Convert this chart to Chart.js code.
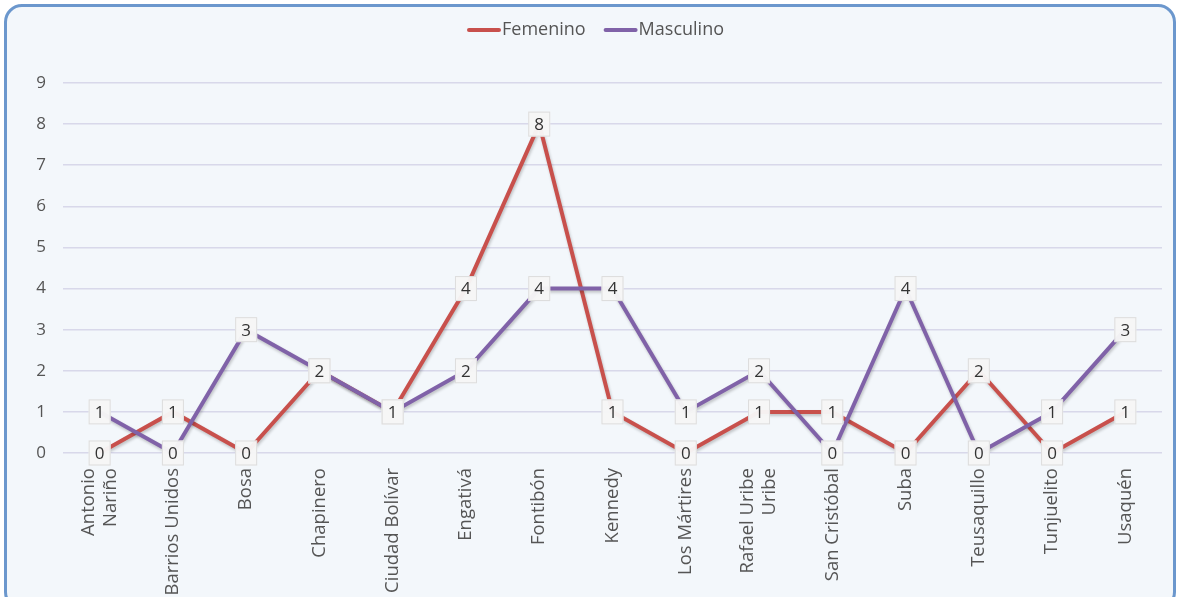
<!DOCTYPE html>
<html>
<head>
<meta charset="utf-8">
<script src="https://cdn.jsdelivr.net/npm/chart.js@4.4.1/dist/chart.umd.min.js"></script>
<style>
  html, body { margin: 0; padding: 0; width: 1180px; height: 597px; overflow: hidden; background: #ffffff; }
  #frame { position: absolute; left: 4px; top: 4px; width: 1166px; height: 600px; border: 3px solid #6b97cd; border-radius: 18px; background: #f3f7fb; }
  #c { position: absolute; left: 0; top: 0; }
</style>
</head>
<body>
<div id="frame"></div>
<canvas id="c" width="1180" height="597"></canvas>
<script>
const categories = [
  ["Antonio", "Nariño"], "Barrios Unidos", "Bosa", "Chapinero", "Ciudad Bolívar",
  "Engativá", "Fontibón", "Kennedy", "Los Mártires", ["Rafael Uribe", "Uribe"],
  "San Cristóbal", "Suba", "Teusaquillo", "Tunjuelito", "Usaquén"
];
const seriesNames = ["Femenino", "Masculino"];
const femenino  = [0, 1, 0, 2, 1, 4, 8, 1, 0, 1, 1, 0, 2, 0, 1];
const masculino = [1, 0, 3, 2, 1, 2, 4, 4, 1, 2, 0, 4, 0, 1, 3];
const yTicks = [0, 1, 2, 3, 4, 5, 6, 7, 8, 9];

const FONT = "'Open Sans', 'DejaVu Sans', sans-serif";
const RED = "#c8504c";
const PURPLE = "#8062a8";
const X_FONT_SIZE = 18.5;

const lineShadow = {
  id: "lineShadow",
  beforeDatasetDraw(chart) {
    const ctx = chart.ctx;
    ctx.save();
    ctx.shadowColor = "rgba(0,0,0,0.22)";
    ctx.shadowBlur = 3;
    ctx.shadowOffsetX = 1;
    ctx.shadowOffsetY = 2;
  },
  afterDatasetDraw(chart) { chart.ctx.restore(); }
};

const centerMultiline = {
  id: "centerMultiline",
  beforeDraw(chart) {
    const scale = chart.scales.x;
    const items = scale.getLabelItems();
    const lh = X_FONT_SIZE * 1.2;
    items.forEach((it, i) => {
      const lbl = chart.data.labels[i];
      if (Array.isArray(lbl) && it.options && it.options.translation && !it._centered) {
        it.options.translation[0] -= (lbl.length - 1) * lh / 2;
        it._centered = true;
      }
    });
  }
};

const valueLabels = {
  id: "valueLabels",
  afterDatasetsDraw(chart) {
    const ctx = chart.ctx;
    ctx.save();
    ctx.font = "17px " + FONT;
    ctx.textAlign = "center";
    ctx.textBaseline = "middle";
    chart.data.datasets.forEach((ds, i) => {
      const meta = chart.getDatasetMeta(i);
      meta.data.forEach((pt, j) => {
        const txt = String(ds.data[j]);
        const w = Math.max(ctx.measureText(txt).width + 12, 22);
        const h = 25;
        const x = pt.x, y = pt.y;
        ctx.fillStyle = "rgba(246,246,246,0.97)";
        ctx.strokeStyle = "#dddddd";
        ctx.lineWidth = 1;
        ctx.fillRect(x - w / 2, y - h / 2, w, h);
        ctx.strokeRect(x - w / 2 + 0.5, y - h / 2 + 0.5, w - 1, h - 1);
        ctx.fillStyle = "#333333";
        ctx.fillText(txt, x, y + 1);
      });
    });
    ctx.restore();
  }
};

const lineLegend = {
  id: "lineLegend",
  afterDraw(chart) {
    const ctx = chart.ctx;
    ctx.save();
    ctx.font = "18px " + FONT;
    ctx.textBaseline = "middle";
    ctx.textAlign = "left";
    const lineW = 32, gap = 2, spacing = 19;
    const items = chart.data.datasets.map(ds => ({ label: ds.label, color: ds.borderColor, w: ctx.measureText(ds.label).width }));
    let total = 0;
    items.forEach((it, k) => { total += lineW + gap + it.w + (k < items.length - 1 ? spacing : 0); });
    let x = 596 - total / 2;
    const y = 30;
    items.forEach(it => {
      ctx.strokeStyle = it.color;
      ctx.lineWidth = 4;
      ctx.lineCap = "round";
      ctx.beginPath();
      ctx.moveTo(x + 1, y);
      ctx.lineTo(x + lineW - 1, y);
      ctx.stroke();
      ctx.fillStyle = "#555555";
      ctx.fillText(it.label, x + lineW + gap, y);
      x += lineW + gap + it.w + spacing;
    });
    ctx.restore();
  }
};

new Chart(document.getElementById("c"), {
  type: "line",
  data: {
    labels: categories,
    datasets: [
      { label: seriesNames[0], data: femenino, borderColor: RED, backgroundColor: RED, borderWidth: 4, pointRadius: 0, tension: 0, order: 1 },
      { label: seriesNames[1], data: masculino, borderColor: PURPLE, backgroundColor: PURPLE, borderWidth: 4, pointRadius: 0, tension: 0, order: 0 }
    ]
  },
  options: {
    responsive: false,
    animation: false,
    devicePixelRatio: 1,
    layout: { padding: { top: 83, right: 18, left: 0, bottom: 0 } },
    plugins: {
      legend: { display: false },
      tooltip: { enabled: false }
    },
    scales: {
      x: {
        offset: true,
        grid: { display: false, drawTicks: false },
        border: { display: false },
        ticks: {
          autoSkip: false, maxRotation: 90, minRotation: 90,
          color: "#555555", font: { family: FONT, size: X_FONT_SIZE }, padding: 15
        },
        afterFit(scale) { scale.height = 597 - 453; }
      },
      y: {
        min: 0, max: 9,
        afterBuildTicks(scale) { scale.ticks = yTicks.map(v => ({ value: v })); },
        grid: { color: "#d8d8ea", lineWidth: 1.5, drawTicks: false },
        border: { display: false },
        ticks: { color: "#555555", font: { family: FONT, size: 17 }, padding: 17 },
        afterFit(scale) { scale.width = 63; }
      }
    }
  },
  plugins: [lineShadow, centerMultiline, valueLabels, lineLegend]
});
</script>
</body>
</html>
